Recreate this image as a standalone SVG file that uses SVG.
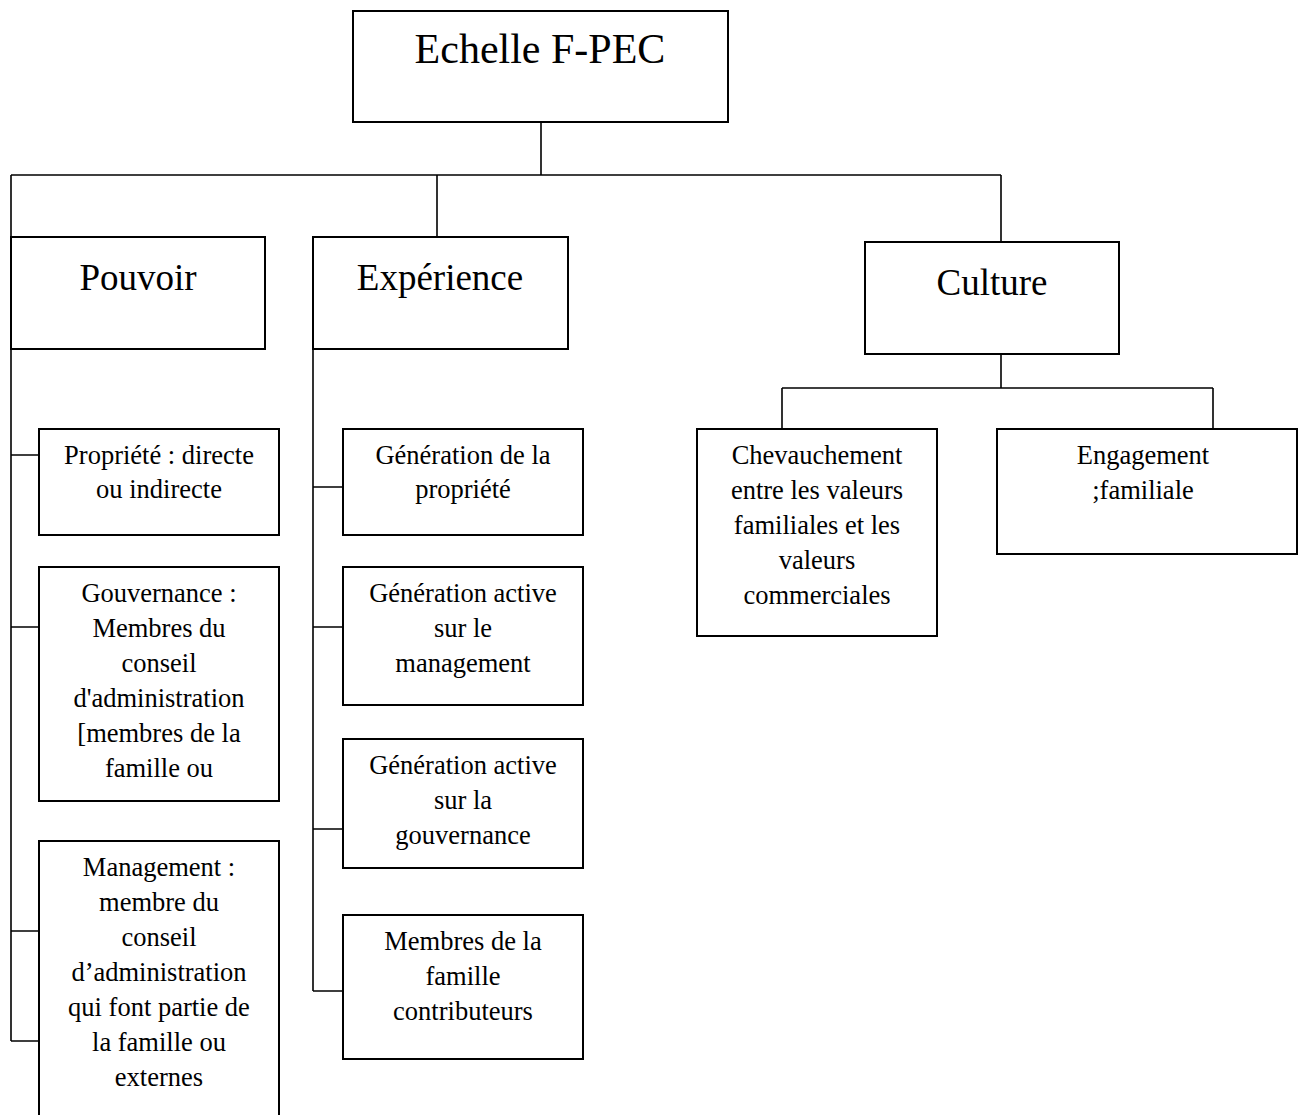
<svg xmlns="http://www.w3.org/2000/svg" width="1302" height="1115" viewBox="0 0 1302 1115">
<style>
.box{fill:#fff;stroke:#000;stroke-width:2}
.ln{fill:none;stroke:#000;stroke-width:1.6}
</style>
<rect width="1302" height="1115" fill="#fff"/>
<g id="connectors">
<path class="ln" d="M541,122 V175 M11,175 H1001 M11,175 V237 M437,175 V237 M1001,175 V243"/>
<path class="ln" d="M11,349 V1041 M11,455 H39 M11,627 H39 M11,931 H39 M11,1041 H39"/>
<path class="ln" d="M313,349 V991 M313,487 H343 M313,627 H343 M313,829 H343 M313,991 H343"/>
<path class="ln" d="M1001,354 V388 M782,388 H1213 M782,388 V429 M1213,388 V429"/>
</g>
<g id="root"><rect class="box" x="353" y="11" width="375" height="111"/><text font-family="Liberation Serif" font-size="42" text-anchor="middle" x="540" y="63">Echelle F-PEC</text></g>
<g id="pouvoir"><rect class="box" x="11" y="237" width="254" height="112"/><text font-family="Liberation Serif" font-size="37" text-anchor="middle" x="138" y="290">Pouvoir</text></g>
<g id="experience"><rect class="box" x="313" y="237" width="255" height="112"/><text font-family="Liberation Serif" font-size="37" text-anchor="middle" x="440" y="290">Expérience</text></g>
<g id="culture"><rect class="box" x="865" y="242" width="254" height="112"/><text font-family="Liberation Serif" font-size="37" text-anchor="middle" x="992" y="295">Culture</text></g>
<g id="propriete"><rect class="box" x="39" y="429" width="240" height="106"/><text font-family="Liberation Serif" font-size="26.5" text-anchor="middle" x="159" y="464">Propriété : directe</text><text font-family="Liberation Serif" font-size="26.5" text-anchor="middle" x="159" y="498">ou indirecte</text></g>
<g id="gouvernance"><rect class="box" x="39" y="567" width="240" height="234"/><text font-family="Liberation Serif" font-size="26.5" text-anchor="middle" x="159" y="602">Gouvernance :</text><text font-family="Liberation Serif" font-size="26.5" text-anchor="middle" x="159" y="637">Membres du</text><text font-family="Liberation Serif" font-size="26.5" text-anchor="middle" x="159" y="672">conseil</text><text font-family="Liberation Serif" font-size="26.5" text-anchor="middle" x="159" y="707">d'administration</text><text font-family="Liberation Serif" font-size="26.5" text-anchor="middle" x="159" y="742">[membres de la</text><text font-family="Liberation Serif" font-size="26.5" text-anchor="middle" x="159" y="777">famille ou</text></g>
<g id="management"><rect class="box" x="39" y="841" width="240" height="300"/><text font-family="Liberation Serif" font-size="26.5" text-anchor="middle" x="159" y="876">Management :</text><text font-family="Liberation Serif" font-size="26.5" text-anchor="middle" x="159" y="911">membre du</text><text font-family="Liberation Serif" font-size="26.5" text-anchor="middle" x="159" y="946">conseil</text><text font-family="Liberation Serif" font-size="26.5" text-anchor="middle" x="159" y="981">d’administration</text><text font-family="Liberation Serif" font-size="26.5" text-anchor="middle" x="159" y="1016">qui font partie de</text><text font-family="Liberation Serif" font-size="26.5" text-anchor="middle" x="159" y="1051">la famille ou</text><text font-family="Liberation Serif" font-size="26.5" text-anchor="middle" x="159" y="1086">externes</text></g>
<g id="gen-propriete"><rect class="box" x="343" y="429" width="240" height="106"/><text font-family="Liberation Serif" font-size="26.5" text-anchor="middle" x="463" y="464">Génération de la</text><text font-family="Liberation Serif" font-size="26.5" text-anchor="middle" x="463" y="498">propriété</text></g>
<g id="gen-management"><rect class="box" x="343" y="567" width="240" height="138"/><text font-family="Liberation Serif" font-size="26.5" text-anchor="middle" x="463" y="602">Génération active</text><text font-family="Liberation Serif" font-size="26.5" text-anchor="middle" x="463" y="637">sur le</text><text font-family="Liberation Serif" font-size="26.5" text-anchor="middle" x="463" y="672">management</text></g>
<g id="gen-gouvernance"><rect class="box" x="343" y="739" width="240" height="129"/><text font-family="Liberation Serif" font-size="26.5" text-anchor="middle" x="463" y="774">Génération active</text><text font-family="Liberation Serif" font-size="26.5" text-anchor="middle" x="463" y="809">sur la</text><text font-family="Liberation Serif" font-size="26.5" text-anchor="middle" x="463" y="844">gouvernance</text></g>
<g id="membres"><rect class="box" x="343" y="915" width="240" height="144"/><text font-family="Liberation Serif" font-size="26.5" text-anchor="middle" x="463" y="950">Membres de la</text><text font-family="Liberation Serif" font-size="26.5" text-anchor="middle" x="463" y="985">famille</text><text font-family="Liberation Serif" font-size="26.5" text-anchor="middle" x="463" y="1020">contributeurs</text></g>
<g id="chevauchement"><rect class="box" x="697" y="429" width="240" height="207"/><text font-family="Liberation Serif" font-size="26.5" text-anchor="middle" x="817" y="464">Chevauchement</text><text font-family="Liberation Serif" font-size="26.5" text-anchor="middle" x="817" y="499">entre les valeurs</text><text font-family="Liberation Serif" font-size="26.5" text-anchor="middle" x="817" y="534">familiales et les</text><text font-family="Liberation Serif" font-size="26.5" text-anchor="middle" x="817" y="569">valeurs</text><text font-family="Liberation Serif" font-size="26.5" text-anchor="middle" x="817" y="604">commerciales</text></g>
<g id="engagement"><rect class="box" x="997" y="429" width="300" height="125"/><text font-family="Liberation Serif" font-size="26.5" text-anchor="middle" x="1143" y="464">Engagement</text><text font-family="Liberation Serif" font-size="26.5" text-anchor="middle" x="1143" y="499">;familiale</text></g>
</svg>
